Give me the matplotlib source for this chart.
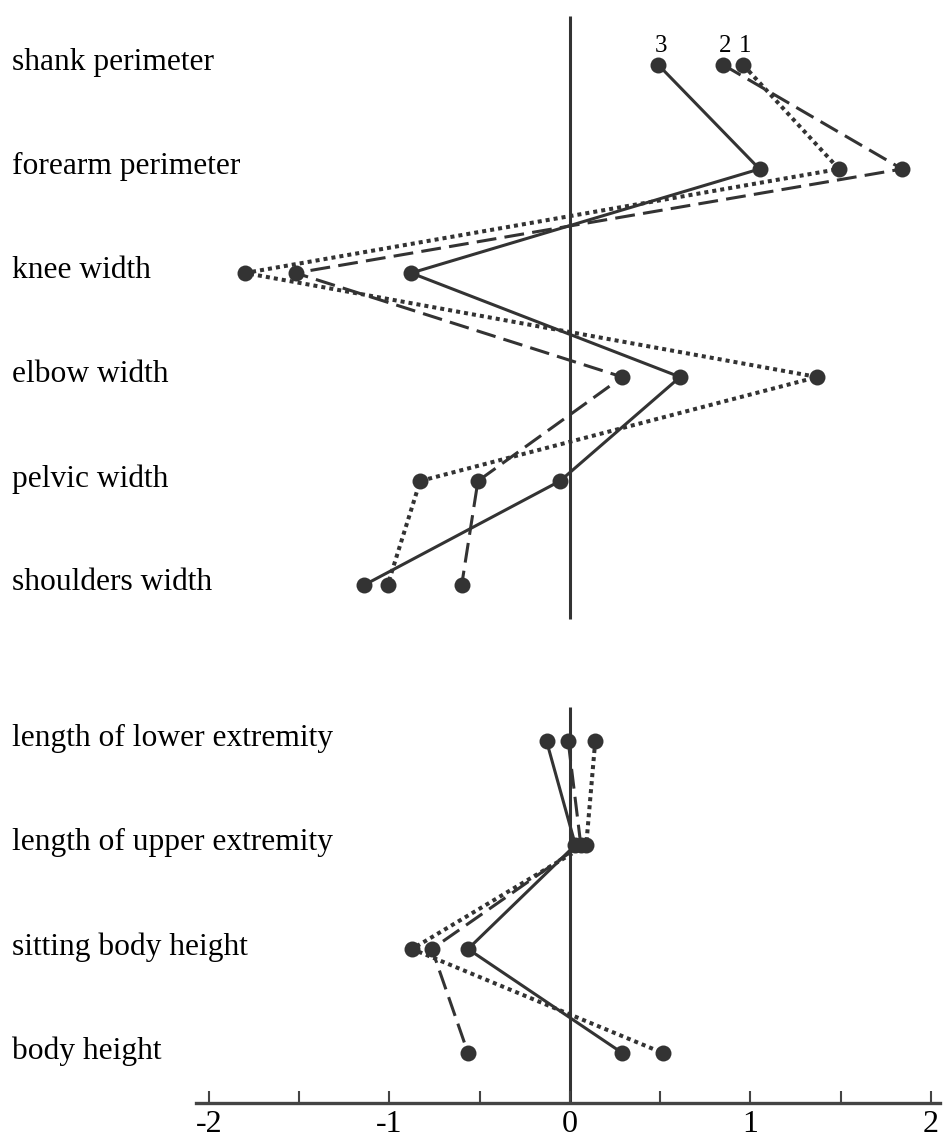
import matplotlib
matplotlib.use("Agg")
import matplotlib.pyplot as plt
import matplotlib.transforms as mtransforms
import numpy as np

# body proportions (upper block) and lengths (lower block)
top_labels = ["shank perimeter", "forearm perimeter", "knee width",
              "elbow width", "pelvic width", "shoulders width"]
top_s1 = [0.96, 1.49, -1.80, 1.37, -0.83, -1.01]   # dotted
top_s2 = [0.85, 1.84, -1.52, 0.29, -0.51, -0.60]   # dashed
top_s3 = [0.49, 1.05, -0.88, 0.61, -0.055, -1.14]  # solid

bot_labels = ["length of lower extremity", "length of upper extremity",
              "sitting body height", "body height"]
bot_s1 = [0.14, 0.09, -0.875, 0.515]
bot_s2 = [-0.01, 0.06, -0.765, -0.565]
bot_s3 = [-0.13, 0.03, -0.565, 0.29]

series_names = ["1", "2", "3"]

col = "#333333"
W, H = 944, 1138
fig = plt.figure(figsize=(W / 100, H / 100), dpi=100)

# axes box in pixels
left_px, right_px, top_px, bot_px = 196, 940, 10, 1103
ax = fig.add_axes([left_px / W, 1 - bot_px / H,
                   (right_px - left_px) / W, (bot_px - top_px) / H])

row_px = 104.0
first_px = 65.0
y_top = np.arange(len(top_labels))
y_bot = np.arange(len(bot_labels)) + len(top_labels) + 0.5

ax.set_xlim(-2.072, 2.05)
ax.set_ylim((bot_px - first_px) / row_px, (top_px - first_px) / row_px)

styles = [
    dict(linestyle=(0, (1, 1)), linewidth=2.9),
    dict(linestyle=(0, (6.5, 2.7)), linewidth=2.2),
    dict(linestyle="-", linewidth=2.2),
]

# zero reference lines
ax.vlines(0, y_top[0] - 0.47, y_top[-1] + 0.33, color=col, lw=2.2, zorder=1)
ax.vlines(0, y_bot[0] - 0.33, ax.get_ylim()[0], color=col, lw=2.2, zorder=1)

for ys, data in [(y_top, [top_s1, top_s2, top_s3]),
                 (y_bot, [bot_s1, bot_s2, bot_s3])]:
    for vals, st in zip(data, styles):
        ax.plot(vals, ys, color=col, dash_capstyle="butt", zorder=2, **st)
    for vals in data:
        ax.plot(vals, ys, "o", color=col, markersize=11.5, zorder=3,
                markeredgewidth=0)

# series numbers above first row
for name, vals in zip(series_names, [top_s1, top_s2, top_s3]):
    ax.annotate(name, (vals[0], y_top[0]), xytext=(1.5, 6),
                textcoords="offset points", ha="center", va="bottom",
                fontsize=18, family="Liberation Serif", color="black")

# category labels at the left edge of the figure
trans = mtransforms.blended_transform_factory(fig.transFigure, ax.transData)
for lab, y in list(zip(top_labels, y_top)) + list(zip(bot_labels, y_bot)):
    ax.text(12 / W, y - 0.02, lab, transform=trans, ha="left", va="center",
            fontsize=22.7, family="Liberation Serif", color="black")

for s in ["top", "left", "right"]:
    ax.spines[s].set_visible(False)
ax.spines["bottom"].set_linewidth(2.4)
ax.spines["bottom"].set_color("#444444")
ax.set_yticks([])
ax.set_xticks([-2, -1, 0, 1, 2])
ax.set_xticklabels(["-2", "-1", "0", "1", "2"], family="Liberation Serif",
                   fontsize=23)
ax.set_xticks(np.arange(-1.5, 2, 1.0), minor=True)
ax.tick_params(axis="x", which="both", direction="in", length=8.6,
               width=1.5, color="#444444", pad=5)
ax.patch.set_visible(False)

fig.savefig("out.png", dpi=100)
